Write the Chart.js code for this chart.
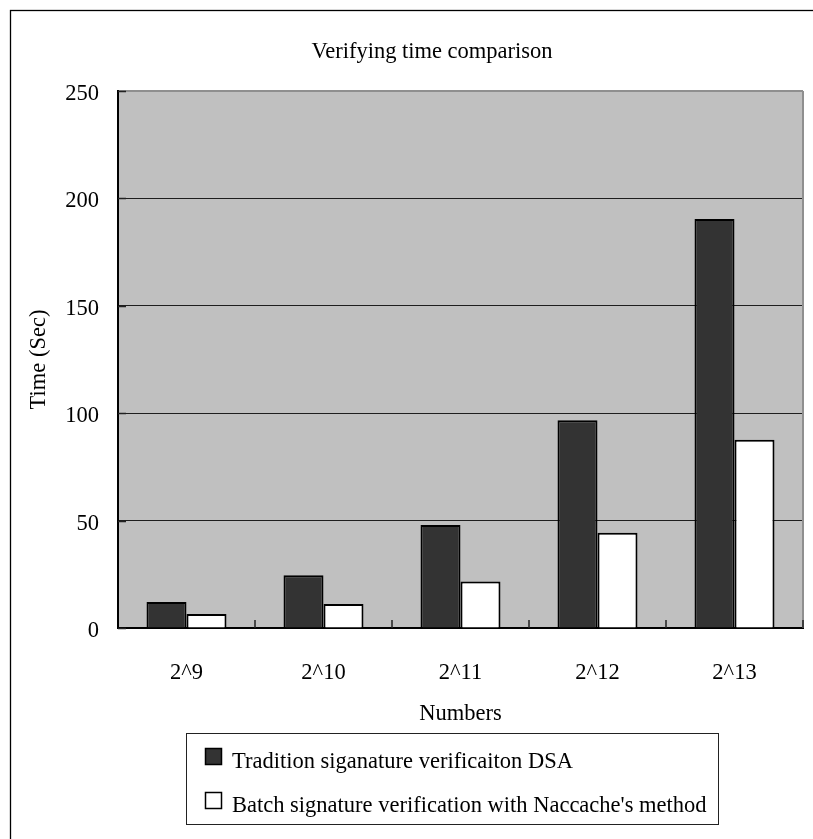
<!DOCTYPE html>
<html>
<head>
<meta charset="utf-8">
<script src="https://cdn.jsdelivr.net/npm/chart.js@4/dist/chart.umd.min.js"></script>
<style>
  html, body { margin: 0; padding: 0; background: #ffffff; }
  #wrap { width: 813px; height: 839px; position: relative; }
</style>
</head>
<body>
<div id="wrap"><canvas id="c" width="813" height="839"></canvas></div>
<script>
// Verification time (seconds) per batch size
const categories = ['2^9', '2^10', '2^11', '2^12', '2^13'];
const traditionDSA = [12.1, 24.5, 48, 96.7, 190.4];
const batchNaccache = [6.5, 11.2, 21.7, 44.3, 87.6];
const yTickValues = [0, 50, 100, 150, 200, 250];

const seriesNames = [
  'Tradition siganature verificaiton DSA',
  "Batch signature verification with Naccache's method"
];
const chartTitle = 'Verifying time comparison';
const xAxisTitle = 'Numbers';
const yAxisTitle = 'Time (Sec)';

const FONT_FAMILY = '"Liberation Serif", "Times New Roman", serif';
const FONT_SIZE = 22.5;

// Grey plot background, frame, inner tick marks, title and boxed legend
const decorations = {
  id: 'decorations',
  beforeDraw(chart) {
    const { ctx, chartArea: a } = chart;
    ctx.save();
    ctx.fillStyle = '#c0c0c0';
    ctx.fillRect(a.left, a.top, a.right - a.left, a.bottom - a.top);
    ctx.restore();
  },
  afterDraw(chart) {
    const { ctx, chartArea: a } = chart;
    const xs = chart.scales.x;
    const ys = chart.scales.y;
    ctx.save();

    // right edge of plot
    ctx.strokeStyle = '#8f8f8f';
    ctx.lineWidth = 2;
    ctx.beginPath();
    ctx.moveTo(a.right, a.top);
    ctx.lineTo(a.right, a.bottom);
    ctx.stroke();

    // inner tick marks on the category axis (between groups)
    ctx.strokeStyle = '#222';
    ctx.lineWidth = 1.5;
    const n = categories.length;
    for (let i = 1; i <= n; i++) {
      const x = i < n
        ? (xs.getPixelForTick(i - 1) + xs.getPixelForTick(i)) / 2
        : a.right;
      ctx.beginPath();
      ctx.moveTo(x, a.bottom);
      ctx.lineTo(x, a.bottom - 8);
      ctx.stroke();
    }
    // inner tick marks on the value axis
    yTickValues.forEach(v => {
      const y = Math.round(ys.getPixelForValue(v)) + 0.5;
      ctx.beginPath();
      ctx.moveTo(a.left, y);
      ctx.lineTo(a.left + 8, y);
      ctx.stroke();
    });

    // outer chart frame
    ctx.strokeStyle = '#000';
    ctx.lineWidth = 1.3;
    ctx.strokeRect(10.5, 10.5, 900, 900);

    // title
    ctx.fillStyle = '#000';
    ctx.font = FONT_SIZE + 'px ' + FONT_FAMILY;
    ctx.textAlign = 'center';
    ctx.textBaseline = 'alphabetic';
    ctx.fillText(chartTitle, 432, 58);

    // legend box
    ctx.strokeStyle = '#222';
    ctx.lineWidth = 1;
    ctx.strokeRect(186.5, 733.5, 532, 91);
    ctx.textAlign = 'left';
    chart.data.datasets.forEach((ds, i) => {
      const base = 768 + i * 44;
      ctx.fillStyle = ds.backgroundColor;
      ctx.fillRect(205, base - 20, 17, 17);
      ctx.strokeStyle = '#000';
      ctx.lineWidth = 1.5;
      ctx.strokeRect(205.5, base - 19.5, 16, 16);
      ctx.fillStyle = '#000';
      ctx.fillText(ds.label, 232, base);
    });
    ctx.restore();
  }
};

new Chart(document.getElementById('c'), {
  type: 'bar',
  data: {
    labels: categories,
    datasets: [
      {
        label: seriesNames[0],
        data: traditionDSA,
        backgroundColor: '#333333',
        borderColor: '#000000',
        borderWidth: 2,
        categoryPercentage: 0.584,
        barPercentage: 1.0
      },
      {
        label: seriesNames[1],
        data: batchNaccache,
        backgroundColor: '#ffffff',
        borderColor: '#000000',
        borderWidth: 2,
        categoryPercentage: 0.584,
        barPercentage: 1.0
      }
    ]
  },
  options: {
    responsive: false,
    animation: false,
    devicePixelRatio: 1,
    layout: { padding: { left: 0, top: 91, right: 10, bottom: 111 } },
    plugins: {
      legend: { display: false },
      title: { display: false },
      tooltip: { enabled: false }
    },
    scales: {
      x: {
        afterFit(scale) { scale.height = 100; },
        grid: { display: false, drawTicks: false },
        border: { display: true, color: '#000', width: 2 },
        ticks: {
          padding: 32,
          color: '#000',
          font: { family: FONT_FAMILY, size: FONT_SIZE }
        },
        title: {
          display: true,
          text: xAxisTitle,
          color: '#000',
          padding: { top: 0, bottom: 0 },
          font: { family: FONT_FAMILY, size: FONT_SIZE }
        }
      },
      y: {
        min: 0,
        max: 250,
        afterFit(scale) { scale.width = 118; },
        afterBuildTicks(scale) {
          scale.ticks = yTickValues.map(v => ({ value: v }));
        },
        grid: {
          drawTicks: false,
          color(ctx) {
            const v = ctx.tick ? ctx.tick.value : null;
            if (v === 0) return 'rgba(0,0,0,0)';
            if (v === 250) return '#8f8f8f';
            return '#1e1e1e';
          },
          lineWidth(ctx) {
            const v = ctx.tick ? ctx.tick.value : null;
            return v === 250 ? 2 : 1;
          }
        },
        border: { display: true, color: '#000', width: 2 },
        ticks: {
          padding: 19,
          labelOffset: 3,
          color: '#000',
          font: { family: FONT_FAMILY, size: FONT_SIZE }
        },
        title: {
          display: true,
          text: yAxisTitle,
          color: '#000',
          padding: { top: 26, bottom: 0 },
          font: { family: FONT_FAMILY, size: FONT_SIZE }
        }
      }
    }
  },
  plugins: [decorations]
});
</script>
</body>
</html>
